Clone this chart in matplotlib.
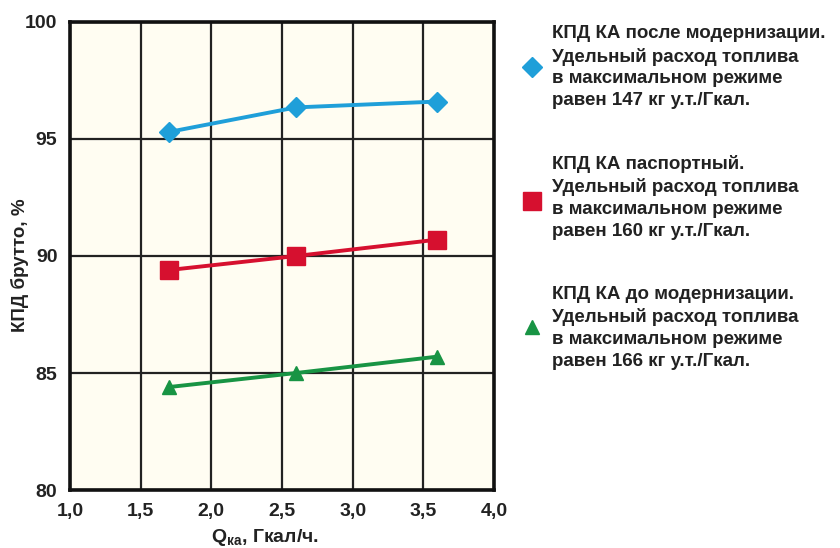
import matplotlib
matplotlib.use('Agg')
import matplotlib.pyplot as plt
from matplotlib.ticker import FixedLocator, FuncFormatter

plt.rcParams['font.family'] = ['Liberation Sans', 'DejaVu Sans']
plt.rcParams['font.weight'] = 'bold'
plt.rcParams['mathtext.default'] = 'regular'

# load Q, Gcal/h
q = [1.7, 2.6, 3.6]

# gross boiler efficiency, %
eff_after = [95.3, 96.35, 96.6]
eff_passport = [89.4, 90.0, 90.7]
eff_before = [84.4, 85.0, 85.7]

series_labels = [
    'КПД КА после модернизации.\nУдельный расход топлива\nв максимальном режиме\nравен 147 кг у.т./Гкал.',
    'КПД КА паспортный.\nУдельный расход топлива\nв максимальном режиме\nравен 160 кг у.т./Гкал.',
    'КПД КА до модернизации.\nУдельный расход топлива\nв максимальном режиме\nравен 166 кг у.т./Гкал.',
]

x_ticks = [1.0, 1.5, 2.0, 2.5, 3.0, 3.5, 4.0]
y_ticks = [80, 85, 90, 95, 100]

colors = ['#1f9fd9', '#d6102f', '#189444']
markers = ['D', 's', '^']
msizes = [10, 13, 10]

fig = plt.figure(figsize=(8.4, 5.48), dpi=100)
fig.patch.set_facecolor('white')
ax = fig.add_axes([0.0833, 0.1058, 0.5047, 0.8541])
ax.set_facecolor('#fffdf2')

for ys, c, m, ms in zip([eff_after, eff_passport, eff_before], colors, markers, msizes):
    ax.plot(q, ys, color=c, lw=2.8, marker=m, ms=ms, mec=c, mfc=c, zorder=3)

ax.set_xlim(1.0, 4.0)
ax.set_ylim(80, 100)
ax.xaxis.set_major_locator(FixedLocator(x_ticks))
ax.yaxis.set_major_locator(FixedLocator(y_ticks))
ax.xaxis.set_major_formatter(FuncFormatter(lambda v, p: f'{v:.1f}'.replace('.', ',')))
ax.yaxis.set_major_formatter(FuncFormatter(lambda v, p: f'{v:.0f}'))
ax.tick_params(length=0, labelsize=14, pad=9)
for t in ax.get_xticklabels() + ax.get_yticklabels():
    t.set_color('#222222')
ax.grid(True, color='#222222', lw=1.6)
ax.set_axisbelow(True)
for s in ax.spines.values():
    s.set_linewidth(2.6)
    s.set_color('#111111')

# axis titles
fig.text(20 / 840, 1 - 265 / 548, 'КПД брутто, %', rotation=90, fontsize=13.5,
         ha='center', va='center', color='#222222')
fig.text(265 / 840, 1 - 542 / 548, r'Q$_{ка}$, Гкал/ч.', fontsize=14,
         ha='center', va='baseline', color='#222222')

# legend blocks on the right
block_tops = [0.954, 0.717, 0.479]
marker_y = [0.878, 0.633, 0.403]
for lab, top, my, c, m, ms in zip(series_labels, block_tops, marker_y, colors, markers, msizes):
    fig.text(552 / 840, top, lab, fontsize=13.5, va='top', ha='left', linespacing=1.38,
             color='#222222')
    ax.plot([532 / 840], [my], transform=fig.transFigure, clip_on=False,
            marker=m, ms=ms, color=c, ls='none')

fig.savefig('out.png', dpi=100)
